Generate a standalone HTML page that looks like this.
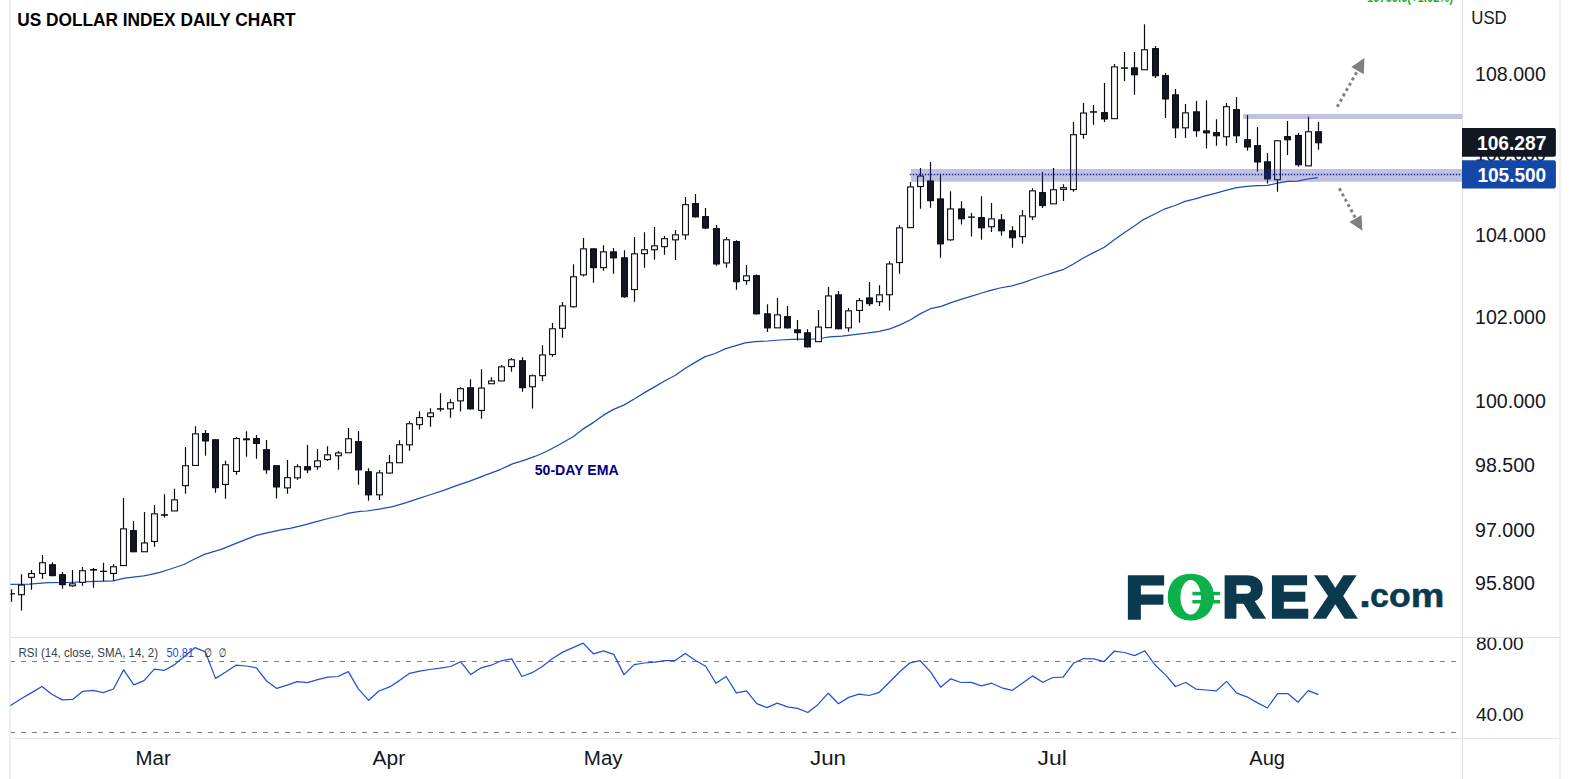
<!DOCTYPE html>
<html><head><meta charset="utf-8"><title>US Dollar Index Daily Chart</title>
<style>
html,body{margin:0;padding:0;background:#fff;}
body{width:1570px;height:779px;overflow:hidden;position:relative;}
svg{position:absolute;left:0;top:0;display:block;}
</style></head><body>
<svg width="1570" height="779" viewBox="0 0 1570 779" font-family="Liberation Sans, Arial, sans-serif">
<defs>
<clipPath id="main"><rect x="10.5" y="0" width="1451.5" height="637"/></clipPath>
<clipPath id="rsi"><rect x="10.5" y="637.8" width="1451.5" height="100"/></clipPath>
</defs>
<rect width="1570" height="779" fill="#fff"/>
<!-- pane borders -->
<rect x="9.3" y="0" width="1.4" height="779" fill="#e6e8ef"/>
<rect x="1461.95" y="0" width="1.1" height="779" fill="#dfdfe3"/>
<rect x="1559.2" y="0" width="1.7" height="779" fill="#edeef2"/>
<rect x="10.5" y="636.9" width="1549" height="1.1" fill="#e0e3eb"/>
<rect x="10.5" y="737.8" width="1549" height="1" fill="#e0e3eb"/>

<!-- title -->
<text x="17.2" y="25.8" font-size="17.6" font-weight="bold" fill="#000" id="title" textLength="278.5" lengthAdjust="spacingAndGlyphs">US DOLLAR INDEX DAILY CHART</text>

<!-- green status text clipped at top -->
<text x="1367" y="1.5" font-size="13" font-weight="bold" fill="#1fa81f" textLength="86" lengthAdjust="spacingAndGlyphs">10700.0(+1.02%)</text>

<g clip-path="url(#main)">
<polyline points="10,584.4 29.1,584.1 48.2,582.7 67.3,582.5 86.4,581.7 105.5,581.1 113.2,580.8 124.6,578.2 143.7,575.8 150,574.7 160,572.3 170.5,569 183.9,564.5 194.1,559.3 204.4,554.4 221.9,549.1 237.3,542.9 255.7,535.7 268.1,532.6 283.5,529.3 290,528.4 302.7,525.4 315.5,521.8 328.2,518.5 341,515.5 348.6,513.1 360.1,511.3 366.4,511 379.2,509.1 392.7,506.6 405.5,502.8 418.2,498.7 431,494.5 443.7,490.3 456.4,485.6 469.2,481.3 485.4,475.1 500.8,469.3 512.4,463.9 523.9,460.4 535.5,456.2 547,451.2 558.6,445 573.5,436.5 582.5,429.4 593.2,422.6 603.1,415.4 613,409.6 623.8,405.1 634.6,398.8 645.4,392.1 655,386.6 665,380.8 675,375.5 685,368.5 695.1,362.4 705.1,356.6 715.1,353.5 725.1,348.9 735.1,345.8 745.1,342.9 755.2,341.6 767.4,341 779.8,340 792.3,339.4 804.7,339.1 814.6,339 822.9,338 829.5,336.9 841.9,336.1 854.3,334.7 866.8,333.2 879.2,331.4 889.9,328.9 900.6,324.6 910.6,319.8 920.5,313.6 930.5,308.7 941.2,306.4 951.1,302.6 961.8,299.1 971.7,296.1 981.7,293 991.6,290.1 1000,288 1011.8,285.9 1022.5,282.8 1033.2,279 1043.9,275.5 1053.1,272.7 1063,269.7 1073,264.3 1082.9,258.3 1093.6,252.6 1104.3,247.3 1115,239.2 1125,232.2 1135.1,225.5 1143.4,219.6 1154.2,214.2 1165.1,208.8 1175.1,205.5 1185.1,201.3 1195.2,198.8 1205.2,195.9 1215.2,193.3 1226.7,190.1 1236.7,187.7 1246.8,186.4 1256.8,185.7 1267.5,185.3 1277.5,183.2 1287.6,181.4 1297.6,181.2 1307.6,179 1317.7,177.6" fill="none" stroke="#1a4fb0" stroke-width="1.25" stroke-linejoin="round"/>
<path d="M11.5 589.3V601.8M21.5 574.2V585M21.5 594.7V610.5M31.5 570V573.5M31.5 577.4V589.7M42.5 555V562.7M42.5 573.5V578.7M52.5 562.2V576.2M62.5 572V588.7M72.5 570V583.8M72.5 585.9V586.7M82.5 567V570.7M82.5 582.4V585.8M93.5 568V587.8M103.5 562.8V581.3M113.5 564.2V566.7M113.5 573.5V580.8M123.5 498V528.8M133.5 521V552.3M144.5 512.1V542.9M154.5 505V513.8M154.5 541.5V546.7M164.5 494.2V517.5M174.5 488.8V499.8M185.5 447V465.7M185.5 485.7V493.7M195.5 426.2V433.8M205.5 430V455.8M215.5 439.2V492.8M225.5 460.8V464.7M225.5 484.5V498.7M236.5 437V438.5M236.5 471.5V474.7M246.5 431.2V456.7M256.5 435V458.7M266.5 440.1V473.8M276.5 465.2V498.6M287.5 460.1V477.6M287.5 487.9V493.8M297.5 464.2V466.7M297.5 477.9V479.7M307.5 444.9V472.9M317.5 448.9V460.8M317.5 466.7V469.7M327.5 446.2V454.8M327.5 459.6V460.7M338.5 451.1V452.9M338.5 455.8V469.7M348.5 428V438.7M358.5 430.9V484.7M368.5 468.2V500.8M379.5 470V472.8M379.5 494.9V499.9M389.5 454.9V462.7M389.5 473.1V473.8M399.5 440.2V444.7M409.5 421.2V423.7M409.5 444.9V450.8M419.5 411.2V417.6M419.5 424.7V429.6M430.5 408.2V412.9M430.5 416.7V426.8M440.5 393.3V411.6M450.5 399.2V402.7M450.5 408.9V417.8M460.5 387.2V388.6M460.5 400.9V411.6M470.5 379.3V409.4M481.5 369.3V388M481.5 410.5V418.7M491.5 377.2V380.9M501.5 365.1V366.8M511.5 358.1V359.7M511.5 366.6V371.8M522.5 357.3V391.7M532.5 374.4V375.7M532.5 386.8V408.6M542.5 345.2V354.9M542.5 375.7V380.9M552.5 323.1V328.7M552.5 354.6V356.7M562.5 302V305.9M562.5 328.4V337.8M573.5 264.3V276.7M573.5 306.8V307.6M583.5 238V248.8M583.5 274.9V276.6M593.5 248.3V282.7M603.5 245.2V251.8M603.5 267.7V270.8M613.5 248.1V273.8M624.5 250.2V297.7M634.5 237.1V253.8M634.5 289.6V301.8M644.5 232.2V249.7M644.5 253.7V267.7M654.5 227.1V245.8M654.5 249.8V259.8M664.5 236V238.6M664.5 246.7V254.8M675.5 230V234.8M675.5 239.9V260M685.5 197.1V204.6M685.5 234.9V239.8M695.5 193.9V217.4M705.5 208V228.8M716.5 224.9V265.7M726.5 237.1V239.7M726.5 263V267.7M736.5 240.3V289.8M746.5 265.1V275.8M746.5 280.7V284.8M756.5 274.4V314.6M767.5 304.3V331.9M777.5 298.1V314.8M787.5 306V328.4M797.5 320.1V340.6M807.5 329.3V347.4M818.5 310.1V327M828.5 287.1V295.9M838.5 291.1V329.3M848.5 308V310.8M848.5 327.9V331.8M859.5 298V300.6M859.5 310.5V322.8M869.5 282V305.9M879.5 285.2V294.8M879.5 301.8V305.9M889.5 261.2V263.9M889.5 294.8V310.6M899.5 225.2V227.8M899.5 262.6V273.8M910.5 182.1V186.9M920.5 168.1V176M920.5 186.6V208.7M930.5 162.1V207.7M940.5 174.5V257.7M950.5 191.3V208.9M950.5 239.9V240.7M961.5 201.2V224.6M971.5 212.9V236.6M981.5 196.2V239.7M991.5 203V218.8M991.5 226.8V232M1001.5 214V235.8M1012.5 226.3V247.8M1022.5 210.1V215.8M1022.5 236.7V243.7M1032.5 188.2V190.8M1032.5 216.9V220M1042.5 172V208M1053.5 168V189.7M1063.5 184.2V187.6M1063.5 189.5V200.9M1073.5 122V134.7M1073.5 189.6V191.7M1083.5 103.1V113M1083.5 134.4V138.7M1093.5 104.9V124.7M1104.5 83V122M1114.5 63.9V66.8M1124.5 52.1V80.9M1134.5 52.1V94.8M1144.5 24.2V49.7M1155.5 45.9V77.9M1165.5 73.1V118M1175.5 89V138M1185.5 104V112.8M1185.5 127.9V138M1196.5 101V136.8M1206.5 100.2V148.6M1216.5 119.2V145.8M1226.5 103.1V106.6M1226.5 136.8V145.8M1236.5 97.1V143M1247.5 115V150.7M1257.5 127.1V171.6M1267.5 153.1V183.6M1277.5 179.7V191.8M1287.5 121V155M1298.5 133.1V166.8M1308.5 116.7V131.7M1318.5 122.1V149.8" stroke="#070a12" stroke-width="1.2" fill="none"/><rect x="8.05" y="593.15" width="6.9" height="1.3" fill="#070a12"/><rect x="18.6" y="585.05" width="5.8" height="9.6" fill="#fff" stroke="#070a12" stroke-width="1.1"/><rect x="28.6" y="573.55" width="5.8" height="3.8" fill="#fff" stroke="#070a12" stroke-width="1.1"/><rect x="39.6" y="562.75" width="5.8" height="10.7" fill="#fff" stroke="#070a12" stroke-width="1.1"/><rect x="49.6" y="564.75" width="5.8" height="10.9" fill="#131722" stroke="#070a12" stroke-width="1.1"/><rect x="59.6" y="574.75" width="5.8" height="9.9" fill="#131722" stroke="#070a12" stroke-width="1.1"/><rect x="69.6" y="583.85" width="5.8" height="2" fill="#fff" stroke="#070a12" stroke-width="1.1"/><rect x="79.6" y="570.75" width="5.8" height="11.6" fill="#fff" stroke="#070a12" stroke-width="1.1"/><rect x="90.05" y="569" width="6.9" height="1.6" fill="#070a12"/><rect x="100.05" y="570.7" width="6.9" height="1.3" fill="#070a12"/><rect x="110.6" y="566.75" width="5.8" height="6.7" fill="#fff" stroke="#070a12" stroke-width="1.1"/><rect x="120.6" y="528.85" width="5.8" height="36.7" fill="#fff" stroke="#070a12" stroke-width="1.1"/><rect x="130.6" y="530.65" width="5.8" height="21.1" fill="#131722" stroke="#070a12" stroke-width="1.1"/><rect x="141.6" y="542.95" width="5.8" height="8.8" fill="#fff" stroke="#070a12" stroke-width="1.1"/><rect x="151.6" y="513.85" width="5.8" height="27.6" fill="#fff" stroke="#070a12" stroke-width="1.1"/><rect x="161.05" y="514.2" width="6.9" height="1.6" fill="#070a12"/><rect x="171.6" y="499.85" width="5.8" height="11.1" fill="#fff" stroke="#070a12" stroke-width="1.1"/><rect x="182.6" y="465.75" width="5.8" height="19.9" fill="#fff" stroke="#070a12" stroke-width="1.1"/><rect x="192.6" y="433.85" width="5.8" height="31.6" fill="#fff" stroke="#070a12" stroke-width="1.1"/><rect x="202.6" y="433.55" width="5.8" height="7.4" fill="#131722" stroke="#070a12" stroke-width="1.1"/><rect x="212.6" y="439.75" width="5.8" height="47.9" fill="#131722" stroke="#070a12" stroke-width="1.1"/><rect x="222.6" y="464.75" width="5.8" height="19.7" fill="#fff" stroke="#070a12" stroke-width="1.1"/><rect x="233.6" y="438.55" width="5.8" height="32.9" fill="#fff" stroke="#070a12" stroke-width="1.1"/><rect x="243.05" y="438.3" width="6.9" height="2" fill="#070a12"/><rect x="253.6" y="438.55" width="5.8" height="4.9" fill="#131722" stroke="#070a12" stroke-width="1.1"/><rect x="263.6" y="449.75" width="5.8" height="20" fill="#131722" stroke="#070a12" stroke-width="1.1"/><rect x="273.6" y="465.75" width="5.8" height="21.2" fill="#131722" stroke="#070a12" stroke-width="1.1"/><rect x="284.6" y="477.65" width="5.8" height="10.2" fill="#fff" stroke="#070a12" stroke-width="1.1"/><rect x="294.6" y="466.75" width="5.8" height="11.1" fill="#fff" stroke="#070a12" stroke-width="1.1"/><rect x="304.6" y="466.75" width="5.8" height="3.1" fill="#131722" stroke="#070a12" stroke-width="1.1"/><rect x="314.6" y="460.85" width="5.8" height="5.8" fill="#fff" stroke="#070a12" stroke-width="1.1"/><rect x="324.6" y="454.85" width="5.8" height="4.7" fill="#fff" stroke="#070a12" stroke-width="1.1"/><rect x="335.6" y="452.95" width="5.8" height="2.8" fill="#fff" stroke="#070a12" stroke-width="1.1"/><rect x="345.6" y="438.75" width="5.8" height="14" fill="#fff" stroke="#070a12" stroke-width="1.1"/><rect x="355.6" y="441.65" width="5.8" height="28.2" fill="#131722" stroke="#070a12" stroke-width="1.1"/><rect x="365.6" y="471.75" width="5.8" height="23.1" fill="#131722" stroke="#070a12" stroke-width="1.1"/><rect x="376.6" y="472.85" width="5.8" height="22" fill="#fff" stroke="#070a12" stroke-width="1.1"/><rect x="386.6" y="462.75" width="5.8" height="10.3" fill="#fff" stroke="#070a12" stroke-width="1.1"/><rect x="396.6" y="444.75" width="5.8" height="18" fill="#fff" stroke="#070a12" stroke-width="1.1"/><rect x="406.6" y="423.75" width="5.8" height="21.1" fill="#fff" stroke="#070a12" stroke-width="1.1"/><rect x="416.6" y="417.65" width="5.8" height="7" fill="#fff" stroke="#070a12" stroke-width="1.1"/><rect x="427.6" y="412.95" width="5.8" height="3.7" fill="#fff" stroke="#070a12" stroke-width="1.1"/><rect x="437.05" y="408.2" width="6.9" height="1.5" fill="#070a12"/><rect x="447.6" y="402.75" width="5.8" height="6.1" fill="#fff" stroke="#070a12" stroke-width="1.1"/><rect x="457.6" y="388.65" width="5.8" height="12.2" fill="#fff" stroke="#070a12" stroke-width="1.1"/><rect x="467.6" y="387.75" width="5.8" height="21.1" fill="#131722" stroke="#070a12" stroke-width="1.1"/><rect x="478.6" y="388.05" width="5.8" height="22.4" fill="#fff" stroke="#070a12" stroke-width="1.1"/><rect x="488.6" y="380.95" width="5.8" height="2.8" fill="#fff" stroke="#070a12" stroke-width="1.1"/><rect x="498.6" y="366.85" width="5.8" height="14.1" fill="#fff" stroke="#070a12" stroke-width="1.1"/><rect x="508.6" y="359.75" width="5.8" height="6.8" fill="#fff" stroke="#070a12" stroke-width="1.1"/><rect x="519.6" y="360.75" width="5.8" height="26.9" fill="#131722" stroke="#070a12" stroke-width="1.1"/><rect x="529.6" y="375.75" width="5.8" height="11" fill="#fff" stroke="#070a12" stroke-width="1.1"/><rect x="539.6" y="354.95" width="5.8" height="20.7" fill="#fff" stroke="#070a12" stroke-width="1.1"/><rect x="549.6" y="328.75" width="5.8" height="25.8" fill="#fff" stroke="#070a12" stroke-width="1.1"/><rect x="559.6" y="305.95" width="5.8" height="22.4" fill="#fff" stroke="#070a12" stroke-width="1.1"/><rect x="570.6" y="276.75" width="5.8" height="30" fill="#fff" stroke="#070a12" stroke-width="1.1"/><rect x="580.6" y="248.85" width="5.8" height="26" fill="#fff" stroke="#070a12" stroke-width="1.1"/><rect x="590.6" y="248.85" width="5.8" height="18.8" fill="#131722" stroke="#070a12" stroke-width="1.1"/><rect x="600.6" y="251.85" width="5.8" height="15.8" fill="#fff" stroke="#070a12" stroke-width="1.1"/><rect x="610.6" y="251.85" width="5.8" height="6" fill="#131722" stroke="#070a12" stroke-width="1.1"/><rect x="621.6" y="257.85" width="5.8" height="38.9" fill="#131722" stroke="#070a12" stroke-width="1.1"/><rect x="631.6" y="253.85" width="5.8" height="35.7" fill="#fff" stroke="#070a12" stroke-width="1.1"/><rect x="641.6" y="249.75" width="5.8" height="3.9" fill="#fff" stroke="#070a12" stroke-width="1.1"/><rect x="651.6" y="245.85" width="5.8" height="3.9" fill="#fff" stroke="#070a12" stroke-width="1.1"/><rect x="661.6" y="238.65" width="5.8" height="8" fill="#fff" stroke="#070a12" stroke-width="1.1"/><rect x="672.6" y="234.85" width="5.8" height="5" fill="#fff" stroke="#070a12" stroke-width="1.1"/><rect x="682.6" y="204.65" width="5.8" height="30.2" fill="#fff" stroke="#070a12" stroke-width="1.1"/><rect x="692.6" y="203.65" width="5.8" height="13.2" fill="#131722" stroke="#070a12" stroke-width="1.1"/><rect x="702.6" y="216.65" width="5.8" height="11.4" fill="#131722" stroke="#070a12" stroke-width="1.1"/><rect x="713.6" y="228.65" width="5.8" height="35.3" fill="#131722" stroke="#070a12" stroke-width="1.1"/><rect x="723.6" y="239.75" width="5.8" height="23.2" fill="#fff" stroke="#070a12" stroke-width="1.1"/><rect x="733.6" y="241.65" width="5.8" height="40.1" fill="#131722" stroke="#070a12" stroke-width="1.1"/><rect x="743.6" y="275.85" width="5.8" height="4.8" fill="#fff" stroke="#070a12" stroke-width="1.1"/><rect x="753.6" y="275.65" width="5.8" height="38.2" fill="#131722" stroke="#070a12" stroke-width="1.1"/><rect x="764.6" y="313.85" width="5.8" height="14" fill="#131722" stroke="#070a12" stroke-width="1.1"/><rect x="774.6" y="314.85" width="5.8" height="13" fill="#fff" stroke="#070a12" stroke-width="1.1"/><rect x="784.6" y="316.65" width="5.8" height="11.2" fill="#131722" stroke="#070a12" stroke-width="1.1"/><rect x="794.6" y="329.85" width="5.8" height="2.8" fill="#131722" stroke="#070a12" stroke-width="1.1"/><rect x="804.6" y="332.85" width="5.8" height="14" fill="#131722" stroke="#070a12" stroke-width="1.1"/><rect x="815.6" y="327.05" width="5.8" height="14.6" fill="#fff" stroke="#070a12" stroke-width="1.1"/><rect x="825.6" y="295.95" width="5.8" height="31.7" fill="#fff" stroke="#070a12" stroke-width="1.1"/><rect x="835.6" y="294.85" width="5.8" height="33.9" fill="#131722" stroke="#070a12" stroke-width="1.1"/><rect x="845.6" y="310.85" width="5.8" height="17" fill="#fff" stroke="#070a12" stroke-width="1.1"/><rect x="856.6" y="300.65" width="5.8" height="9.8" fill="#fff" stroke="#070a12" stroke-width="1.1"/><rect x="866.6" y="297.95" width="5.8" height="5.7" fill="#131722" stroke="#070a12" stroke-width="1.1"/><rect x="876.6" y="294.85" width="5.8" height="6.9" fill="#fff" stroke="#070a12" stroke-width="1.1"/><rect x="886.6" y="263.95" width="5.8" height="30.8" fill="#fff" stroke="#070a12" stroke-width="1.1"/><rect x="896.6" y="227.85" width="5.8" height="34.7" fill="#fff" stroke="#070a12" stroke-width="1.1"/><rect x="907.6" y="186.95" width="5.8" height="40.7" fill="#fff" stroke="#070a12" stroke-width="1.1"/><rect x="917.6" y="176.05" width="5.8" height="10.5" fill="#fff" stroke="#070a12" stroke-width="1.1"/><rect x="927.6" y="180.95" width="5.8" height="19.7" fill="#131722" stroke="#070a12" stroke-width="1.1"/><rect x="937.6" y="198.95" width="5.8" height="44.9" fill="#131722" stroke="#070a12" stroke-width="1.1"/><rect x="947.6" y="208.95" width="5.8" height="30.9" fill="#fff" stroke="#070a12" stroke-width="1.1"/><rect x="958.6" y="208.95" width="5.8" height="9.8" fill="#131722" stroke="#070a12" stroke-width="1.1"/><rect x="968.05" y="216.45" width="6.9" height="1.3" fill="#070a12"/><rect x="978.6" y="217.65" width="5.8" height="10.1" fill="#131722" stroke="#070a12" stroke-width="1.1"/><rect x="988.6" y="218.85" width="5.8" height="7.9" fill="#fff" stroke="#070a12" stroke-width="1.1"/><rect x="998.6" y="219.85" width="5.8" height="10.9" fill="#131722" stroke="#070a12" stroke-width="1.1"/><rect x="1009.6" y="230.85" width="5.8" height="6.9" fill="#131722" stroke="#070a12" stroke-width="1.1"/><rect x="1019.6" y="215.85" width="5.8" height="20.8" fill="#fff" stroke="#070a12" stroke-width="1.1"/><rect x="1029.6" y="190.85" width="5.8" height="26" fill="#fff" stroke="#070a12" stroke-width="1.1"/><rect x="1039.6" y="192.65" width="5.8" height="12.9" fill="#131722" stroke="#070a12" stroke-width="1.1"/><rect x="1050.6" y="189.75" width="5.8" height="14.1" fill="#fff" stroke="#070a12" stroke-width="1.1"/><rect x="1060.6" y="187.65" width="5.8" height="1.8" fill="#fff" stroke="#070a12" stroke-width="1.1"/><rect x="1070.6" y="134.75" width="5.8" height="54.8" fill="#fff" stroke="#070a12" stroke-width="1.1"/><rect x="1080.6" y="113.05" width="5.8" height="21.3" fill="#fff" stroke="#070a12" stroke-width="1.1"/><rect x="1090.05" y="111.2" width="6.9" height="1.5" fill="#070a12"/><rect x="1101.6" y="112.65" width="5.8" height="6.3" fill="#131722" stroke="#070a12" stroke-width="1.1"/><rect x="1111.6" y="66.85" width="5.8" height="51.8" fill="#fff" stroke="#070a12" stroke-width="1.1"/><rect x="1121.05" y="67.3" width="6.9" height="1.5" fill="#070a12"/><rect x="1131.6" y="67.85" width="5.8" height="6.9" fill="#131722" stroke="#070a12" stroke-width="1.1"/><rect x="1141.6" y="49.75" width="5.8" height="20" fill="#fff" stroke="#070a12" stroke-width="1.1"/><rect x="1152.6" y="48.65" width="5.8" height="27.1" fill="#131722" stroke="#070a12" stroke-width="1.1"/><rect x="1162.6" y="75.65" width="5.8" height="23.3" fill="#131722" stroke="#070a12" stroke-width="1.1"/><rect x="1172.6" y="94.85" width="5.8" height="33" fill="#131722" stroke="#070a12" stroke-width="1.1"/><rect x="1182.6" y="112.85" width="5.8" height="15" fill="#fff" stroke="#070a12" stroke-width="1.1"/><rect x="1193.6" y="111.85" width="5.8" height="18.9" fill="#131722" stroke="#070a12" stroke-width="1.1"/><rect x="1203.6" y="130.85" width="5.8" height="2" fill="#131722" stroke="#070a12" stroke-width="1.1"/><rect x="1213.6" y="132.65" width="5.8" height="3.1" fill="#131722" stroke="#070a12" stroke-width="1.1"/><rect x="1223.6" y="106.65" width="5.8" height="30.1" fill="#fff" stroke="#070a12" stroke-width="1.1"/><rect x="1233.6" y="109.65" width="5.8" height="26.1" fill="#131722" stroke="#070a12" stroke-width="1.1"/><rect x="1244.6" y="139.75" width="5.8" height="7.2" fill="#131722" stroke="#070a12" stroke-width="1.1"/><rect x="1254.6" y="145.65" width="5.8" height="16.3" fill="#131722" stroke="#070a12" stroke-width="1.1"/><rect x="1264.6" y="161.85" width="5.8" height="17" fill="#131722" stroke="#070a12" stroke-width="1.1"/><rect x="1274.6" y="140.75" width="5.8" height="38.9" fill="#fff" stroke="#070a12" stroke-width="1.1"/><rect x="1284.6" y="136.65" width="5.8" height="3.1" fill="#131722" stroke="#070a12" stroke-width="1.1"/><rect x="1295.6" y="135.45" width="5.8" height="29.3" fill="#131722" stroke="#070a12" stroke-width="1.1"/><rect x="1305.6" y="131.75" width="5.8" height="34.1" fill="#fff" stroke="#070a12" stroke-width="1.1"/><rect x="1315.6" y="131.75" width="5.8" height="11" fill="#131722" stroke="#070a12" stroke-width="1.1"/>
<!-- zones (overlay) -->
<rect x="911" y="169.1" width="551" height="12.6" fill="rgb(50,50,160)" fill-opacity="0.3"/><rect x="911" y="169.1" width="551" height="0.9" fill="rgb(50,50,160)" fill-opacity="0.05"/><rect x="911" y="180.8" width="551" height="0.9" fill="rgb(50,50,160)" fill-opacity="0.05"/>
<rect x="1243" y="114" width="219" height="5" fill="rgb(50,50,160)" fill-opacity="0.3"/>
<line x1="909.8" y1="174.5" x2="1462" y2="174.5" stroke="#0b2e9e" stroke-width="1.4" stroke-dasharray="1.4 1.6"/>
<!-- arrows -->
<line x1="1337.19" y1="106.81" x2="1356.62" y2="72.31" stroke="#808080" stroke-width="3" stroke-dasharray="3 3.1"/>
<polygon points="1364.4,57.9 1351.3,67.1 1363.8,74.2" fill="#808080"/>
<line x1="1339.3" y1="188.31" x2="1355.22" y2="217.53" stroke="#808080" stroke-width="3" stroke-dasharray="3 3.05"/>
<polygon points="1362.4,230.8 1349.4,222 1361.6,215.1" fill="#808080"/>
<text x="534.7" y="474.9" font-size="14.4" font-weight="bold" fill="#000080" id="ema" textLength="83.9" lengthAdjust="spacingAndGlyphs">50-DAY EMA</text>
</g>

<!-- price axis -->
<g font-size="19.6" fill="#131722">
<text x="1475" y="81.02">108.000</text><text x="1475" y="242.22">104.000</text><text x="1475" y="324.12">102.000</text><text x="1475" y="408.02">100.000</text><text x="1475" y="472.22">98.500</text><text x="1475" y="537.02">97.000</text><text x="1475" y="589.92">95.800</text>
<text x="1475" y="161.32">106.000</text>
<text x="1471.3" y="23.8" font-size="18.3" textLength="35.4" lengthAdjust="spacingAndGlyphs">USD</text>
</g>
<path d="M1462 128h91.9a2 2 0 0 1 2 2v24.7a2 2 0 0 1 -2 2h-91.9z" fill="#131722"/>
<text x="1477" y="150.3" font-size="20" fill="#fff" font-weight="bold" id="lbl1" textLength="69.4" lengthAdjust="spacingAndGlyphs">106.287</text>
<path d="M1462 160.2h91.9a2 2 0 0 1 2 2v24.4a2 2 0 0 1 -2 2h-91.9z" fill="#1347a8"/>
<text x="1477.4" y="182.1" font-size="19.3" fill="#fff" font-weight="bold" id="lbl2" textLength="68.8" lengthAdjust="spacingAndGlyphs">105.500</text>

<!-- RSI pane -->
<g clip-path="url(#rsi)">
<line x1="10.5" y1="661.45" x2="1462" y2="661.45" stroke="#787b86" stroke-width="1.1" stroke-dasharray="4.9 6.1" stroke-dashoffset="0.45"/>
<line x1="10.5" y1="732.45" x2="1462" y2="732.45" stroke="#787b86" stroke-width="1.1" stroke-dasharray="4.9 6.1" stroke-dashoffset="0.45"/>
<polyline points="9.5,706.3 11.3,705 21.51,698.5 31.72,692.6 41.94,686.5 52.15,694.5 62.36,699.9 72.57,699.4 82.78,691.3 93,690.4 103.21,692.6 113.42,689 123.63,669.8 133.84,684.9 144.06,680.6 154.27,669.2 164.48,670.3 174.69,664.6 184.9,656 195.12,647.6 205.33,651.9 215.54,678.4 225.75,672 235.96,665.2 246.18,666 256.39,667.8 266.6,681 276.81,688.4 287.02,685.2 297.24,681.6 307.45,682.7 317.66,679.7 327.87,677.2 338.08,676.5 348.3,671.6 358.51,689.1 368.72,700.3 378.93,691 389.14,687.2 399.36,680.6 409.57,673.3 419.78,671.1 429.99,669.5 440.2,668.2 450.42,666.5 460.63,661.7 470.84,674.6 481.05,667.8 491.26,665.2 501.48,660.8 511.69,658.9 521.9,676.5 532.11,672.7 542.32,666.5 552.54,658.5 562.75,652.1 572.96,647.6 583.17,643.1 593.38,653.8 603.6,650.8 613.81,654.4 624.02,674.6 634.23,664.6 644.44,663 654.66,662.1 664.87,660.7 675.08,660.5 685.29,653.4 695.5,660.5 705.72,666.2 715.93,683.3 726.14,676.5 736.35,692.8 746.56,690.9 756.78,703.7 766.99,707.6 777.2,703.1 787.41,706.9 797.62,708.3 807.84,712.5 818.05,704.4 828.26,693.2 838.47,703.7 848.68,697.4 858.9,694.2 869.11,695.5 879.32,692.3 889.53,682 899.74,671.8 909.96,662.8 920.17,660.7 930.38,671.6 940.59,687.2 950.8,678.8 961.02,682.5 971.23,682.3 981.44,685.8 991.65,683.2 1001.86,687.8 1012.08,690.4 1022.29,683.3 1032.5,675.9 1042.71,682.3 1052.92,677.5 1063.14,677.2 1073.35,663.3 1083.56,658.5 1093.77,658.8 1103.98,661.7 1114.2,651.2 1124.41,652.5 1134.62,655.6 1144.83,650.8 1155.04,665 1165.26,674.6 1175.47,686.5 1185.68,682.5 1195.89,689.1 1206.1,690 1216.32,690.9 1226.53,681.4 1236.74,693.2 1246.95,696.8 1257.16,702.6 1267.38,708 1277.59,693.6 1287.8,693.5 1298.01,702.2 1308.22,690.6 1318.44,694.7" fill="none" stroke="#2150d6" stroke-width="1.25" stroke-linejoin="round"/>
<text x="18.5" y="657.3" font-size="13.5" fill="#3a3e4a" id="rsil" textLength="139.5" lengthAdjust="spacingAndGlyphs">RSI (14, close, SMA, 14, 2)</text>
<text x="166.5" y="657.3" font-size="13.5" fill="#2150d6" textLength="27.4" lengthAdjust="spacingAndGlyphs">50.81</text>
<text x="204" y="657.3" font-size="12.5" font-family="DejaVu Sans" fill="#1e222d" textLength="8" lengthAdjust="spacingAndGlyphs">&#8709;</text>
<text x="218.8" y="657.3" font-size="12.5" font-family="DejaVu Sans" fill="#1e222d" textLength="7.5" lengthAdjust="spacingAndGlyphs">&#8709;</text>
</g>
<g font-size="19" fill="#131722">
<svg x="1462" y="637.8" width="97" height="100" overflow="hidden"><text x="14" y="12.4">80.00</text></svg>
<text x="1476" y="721">40.00</text>
</g>

<!-- time axis -->
<g font-size="19.4" fill="#131722"><text x="153.2" y="765.3" text-anchor="middle" textLength="35.2" lengthAdjust="spacingAndGlyphs">Mar</text><text x="388.85" y="765.3" text-anchor="middle" textLength="32.7" lengthAdjust="spacingAndGlyphs">Apr</text><text x="603.2" y="765.3" text-anchor="middle" textLength="38.8" lengthAdjust="spacingAndGlyphs">May</text><text x="828" y="765.3" text-anchor="middle" textLength="36" lengthAdjust="spacingAndGlyphs">Jun</text><text x="1052.15" y="765.3" text-anchor="middle" textLength="29.2" lengthAdjust="spacingAndGlyphs">Jul</text><text x="1267.15" y="765.3" text-anchor="middle" textLength="35.7" lengthAdjust="spacingAndGlyphs">Aug</text></g>

<!-- logo -->
<g id="logo"><text transform="translate(1125.54 617.53) scale(0.6393 0.5907)" font-family="Liberation Sans" font-weight="bold" font-size="100" fill="#0b3a4f" stroke="#0b3a4f" stroke-width="6">F</text><ellipse cx="1190.9" cy="597.25" rx="23.1" ry="23.35" fill="#0db14b"/><text transform="translate(1167.19 618.17) scale(0.6079 0.6065)" font-family="Liberation Sans" font-weight="bold" font-size="100" fill="#0db14b" stroke="#0db14b" stroke-width="6">O</text><ellipse cx="1190.7" cy="597.3" rx="10.2" ry="17.3" fill="#fff"/><rect x="1192.4" y="591.8" width="27.8" height="3.6" fill="#0db14b"/><rect x="1192.4" y="600" width="27.8" height="3.5" fill="#0db14b"/><rect x="1214.2" y="595.4" width="6.5" height="4.6" fill="#fff"/><text transform="translate(1222.59 617.25) scale(0.5775 0.5827)" font-family="Liberation Sans" font-weight="bold" font-size="100" fill="#0b3a4f" stroke="#0b3a4f" stroke-width="6">R</text><text transform="translate(1269.66 617.25) scale(0.5855 0.5827)" font-family="Liberation Sans" font-weight="bold" font-size="100" fill="#0b3a4f" stroke="#0b3a4f" stroke-width="6">E</text><text transform="translate(1315.58 617.25) scale(0.5947 0.5827)" font-family="Liberation Sans" font-weight="bold" font-size="100" fill="#0b3a4f" stroke="#0b3a4f" stroke-width="6">X</text><text transform="translate(1359.23 606.81) scale(0.4125 0.3882)" font-family="Liberation Sans" font-weight="bold" font-size="100" fill="#0b3a4f" stroke="#0b3a4f" stroke-width="1.5">.</text><text transform="translate(1369.98 606.83) scale(0.3400 0.3333)" font-family="Liberation Sans" font-weight="bold" font-size="100" fill="#0b3a4f" stroke="#0b3a4f" stroke-width="1.5">c</text><text transform="translate(1389.03 606.83) scale(0.3564 0.3333)" font-family="Liberation Sans" font-weight="bold" font-size="100" fill="#0b3a4f" stroke="#0b3a4f" stroke-width="1.5">o</text><text transform="translate(1410.73 607.16) scale(0.3779 0.3393)" font-family="Liberation Sans" font-weight="bold" font-size="100" fill="#0b3a4f" stroke="#0b3a4f" stroke-width="1.5">m</text></g>
</svg>
</body></html>
